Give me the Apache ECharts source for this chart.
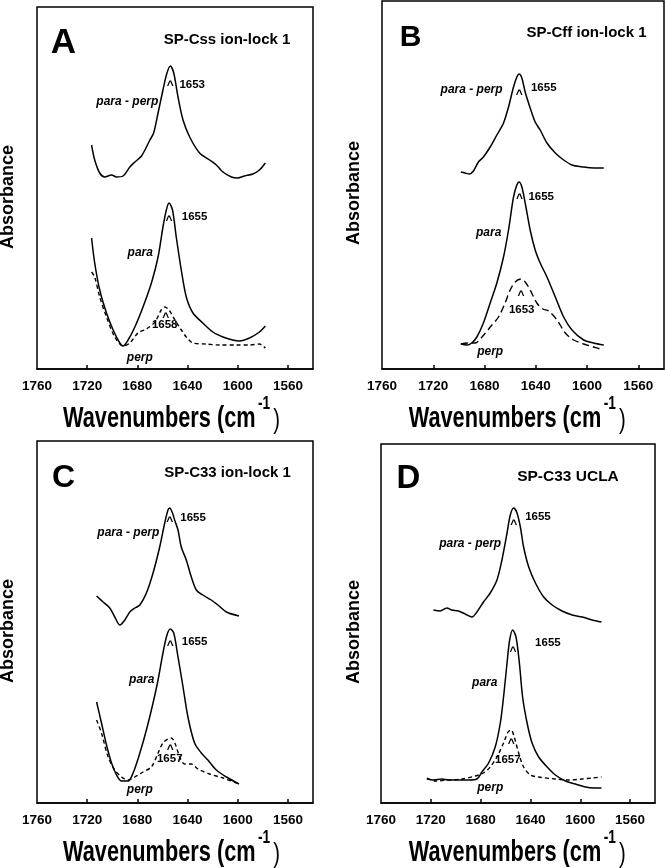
<!DOCTYPE html>
<html><head><meta charset="utf-8">
<script src="https://cdn.jsdelivr.net/npm/echarts@6/dist/echarts.min.js"></script>
<style>html,body{margin:0;padding:0;background:#fff}#c{width:665px;height:868px}</style>
</head><body><div id="c"></div>
<script>
// ---- tick labels / categories ----
const xTickLabels = [1760, 1720, 1680, 1640, 1600, 1560];
const xTickMarks = [1720, 1680, 1640, 1600, 1560];
const panelLetters = ['A', 'B', 'C', 'D'];
const panelTitles = ['SP-Css ion-lock 1', 'SP-Cff ion-lock 1', 'SP-C33 ion-lock 1', 'SP-C33 UCLA'];

// ---- series values: [wavenumber, absorbance (arb.)] ----
const A_paraPerp = [[1716.5,224],[1714,209],[1710,196],[1706,192],[1700.6,194],[1696.6,192],[1691.4,193],[1686,202],[1682,207],[1676.7,213],[1670,229],[1667,236],[1663.5,256],[1659.6,279],[1656.4,296],[1653.7,303],[1651,296],[1647.6,272],[1643.6,249],[1638.3,232],[1630.4,216],[1622.4,209],[1617,204],[1611.8,197],[1605,192],[1600,191],[1594.6,193],[1588,195],[1582.7,199],[1578,206]];
const A_para = [[1716.5,131],[1714,106],[1710,79],[1704.6,56],[1699.3,39],[1694,26],[1691.4,23],[1687.4,29],[1682,42],[1675.5,62],[1668.8,86],[1663.5,112],[1659.6,142],[1656.9,159],[1654.8,166],[1652,159],[1649,132],[1645,99],[1641,72],[1635.7,56],[1627.8,46],[1619.8,37],[1611.8,32],[1604,29],[1598.6,28],[1590.6,31],[1582.7,37],[1578,43]];
const A_perp = [[1716.5,97],[1714,92],[1710,72],[1704.6,52],[1698,32],[1691.4,23],[1686,26],[1679.5,36],[1672.8,40],[1666,47],[1661,59],[1658.2,62],[1654.8,59],[1650,49],[1645,39],[1641,32],[1635.7,26],[1625,25],[1614.5,24],[1601,24],[1590.6,24],[1582.7,25],[1578,21]];

const B_paraPerp = [[1698.5,197],[1695.2,196],[1691.8,195],[1688.7,198],[1684.8,207],[1680.9,212],[1675.6,222],[1670.4,234],[1665.2,246],[1661.3,262],[1657.4,282],[1654.8,292],[1653,295],[1650.9,291],[1648.3,277],[1644.4,261],[1640.5,247],[1636.6,239],[1631.3,226],[1624.8,216],[1618.3,209],[1611.8,204],[1602.7,202],[1594.9,201],[1587,201]];
const B_para = [[1698.5,25],[1693.8,24],[1690,26],[1686,32],[1680.9,46],[1675.6,66],[1670.4,86],[1665.2,112],[1661.3,139],[1657.4,172],[1654.8,184],[1653,187],[1650.9,182],[1648.3,166],[1644.4,139],[1640.5,119],[1636.6,106],[1631.3,92],[1624.8,72],[1618.3,52],[1611.8,39],[1602.7,29],[1594.9,26],[1587,24]];
const B_perp = [[1698.5,25],[1692.6,26],[1687.3,26],[1682,32],[1675.6,42],[1669.1,52],[1664,66],[1660,79],[1656.1,87],[1651.7,90],[1648.3,87],[1644.4,79],[1639.2,66],[1634.5,60],[1630,58],[1623.5,49],[1617,36],[1610.5,29],[1602.7,25],[1594.9,22],[1589.7,20]];

const C_paraPerp = [[1712.5,207],[1707.3,201],[1702,195],[1698,186],[1694,178],[1690,183],[1686,191],[1682,195],[1678,198],[1672.8,210],[1667.5,230],[1662.2,256],[1658.2,280],[1655.6,293],[1654.2,295],[1652,290],[1650.3,283],[1647.6,273],[1645,256],[1641,243],[1637,226],[1633,213],[1627.8,208],[1621.1,203],[1615.8,198],[1609,191],[1599,187]];
const C_para = [[1712.5,101],[1708.6,80],[1704.6,58],[1700.6,40],[1696.6,28],[1692.6,22],[1687.4,22],[1683.4,30],[1678,50],[1672.8,73],[1667.5,100],[1663.5,123],[1659.6,150],[1656.4,168],[1653.7,174],[1651,170],[1647.6,146],[1643.6,116],[1639.7,86],[1634.4,60],[1629,50],[1623.8,43],[1617.1,33],[1609,26],[1599,19]];
const C_perp = [[1712.5,83],[1708.6,70],[1703.3,46],[1698,33],[1692.6,26],[1687.4,23],[1682,26],[1675.5,31],[1668.8,36],[1663.5,50],[1659.6,60],[1655.6,64],[1652.9,65],[1649.5,58],[1646.3,46],[1642.3,39],[1637,39],[1631.7,34],[1622.4,29],[1611.8,25],[1599,19]];

const D_paraPerp = [[1717.9,193],[1712.5,192],[1707.1,195],[1703.1,193],[1697.8,192],[1692.4,189],[1687,186],[1683,191],[1677.7,201],[1672.3,210],[1666.9,223],[1662.9,243],[1658.8,270],[1656.2,288],[1653.5,295],[1650.8,290],[1648.1,276],[1645.5,256],[1641.4,236],[1636,220],[1629.4,206],[1622.6,198],[1614.6,192],[1606.5,188],[1598.5,186],[1590.4,183],[1583,181]];
const D_para = [[1723.2,24],[1717.9,23],[1711.1,24],[1705.8,23],[1697.8,23],[1689.7,23],[1683,24],[1679,31],[1673.6,40],[1668.3,56],[1664.2,80],[1661.6,106],[1658.8,140],[1656.7,163],[1654.3,173],[1651.6,166],[1648.9,140],[1646.3,106],[1642.7,80],[1638.7,60],[1633.4,46],[1626.6,36],[1620,28],[1611.9,22],[1603.9,19],[1595.8,16],[1589.1,15],[1583,15]];
const D_perp = [[1723.2,25],[1716.5,22],[1705.8,23],[1695,24],[1684.3,27],[1677.7,30],[1672.3,36],[1666.9,46],[1661.6,60],[1658,71],[1655.6,73],[1653,66],[1649.5,50],[1645.5,36],[1640,28],[1633.4,26],[1620,24],[1609.3,23],[1598.5,24],[1590.4,25],[1583,26]];

// ---- annotations: [wavenumber, absorbance, text] ----
const A_notes = [[1688.0,267,'para - perp'],[1653.7,286,'^'],[1636.3,284,'1653'],[1654.8,151,'^'],[1634.4,152,'1655'],[1677.7,116,'para'],[1657.4,54,'^'],[1658.2,44,'1658'],[1678,11,'perp']];
const B_notes = [[1690.1,279,'para - perp'],[1653,277,'^'],[1633.8,281,'1655'],[1652.7,173,'^'],[1635.8,172,'1655'],[1676.8,136,'para'],[1651.6,76,'^'],[1651,59,'1653'],[1675.6,17,'perp']];
const C_notes = [[1687.2,270,'para - perp'],[1654.2,284,'^'],[1635.6,285,'1655'],[1653.7,160,'^'],[1634.4,161,'1655'],[1676.5,123,'para'],[1653.7,56,'^'],[1654.2,44,'1657'],[1678,13,'perp']];
const D_notes = [[1688.4,259,'para - perp'],[1653.5,281,'^'],[1634.0,286,'1655'],[1654,154,'^'],[1626.0,160,'1655'],[1676.7,120,'para'],[1655.4,62,'^'],[1658.2,43,'1657'],[1672.3,15,'perp']];

const panelData = [
  {diff: A_paraPerp, para: A_para, perp: A_perp, notes: A_notes},
  {diff: B_paraPerp, para: B_para, perp: B_perp, notes: B_notes},
  {diff: C_paraPerp, para: C_para, perp: C_perp, notes: C_notes},
  {diff: D_paraPerp, para: D_para, perp: D_perp, notes: D_notes}
];

// ---- layout ----
const FONT = '"Liberation Sans", Arial, sans-serif';
const grids = [
  {left: 37, top: 7, width: 276, height: 362},
  {left: 382, top: 1, width: 282, height: 368},
  {left: 37, top: 441, width: 276, height: 362},
  {left: 381, top: 444, width: 274, height: 359}
];
const dashes = [[4, 3], [7, 4], [4, 3], [4, 3]];
const letterPos = [[63.5, 43, 35], [410.5, 38, 30], [63.5, 478, 32], [408.5, 479, 33]];
const titlePos = [[227, 40, 15], [586.5, 33, 15], [227.5, 473, 15], [568, 477, 15.5]];
const absPos = [[8.5, 197], [354, 193], [8.5, 631], [354, 632]];
const wavePos = [[63, 419], [408.7, 419], [63, 853], [408.7, 853]];

const chart = echarts.init(document.getElementById('c'), null, {renderer: 'canvas'});

const xAxes = [], yAxes = [], series = [], graphics = [];
grids.forEach((g, i) => {
  xAxes.push({
    type: 'value', gridIndex: i, min: 1540, max: 1760, inverse: true,
    axisLine: {show: true, lineStyle: {color: '#000', width: 1.5}},
    axisTick: {show: true, inside: true, length: 4, customValues: xTickMarks, lineStyle: {color: '#000', width: 1.5}},
    axisLabel: {show: true, customValues: xTickLabels, formatter: v => String(v), color: '#000', fontWeight: 'bold', fontSize: 13.5, fontFamily: FONT, margin: 10},
    splitLine: {show: false}
  });
  yAxes.push({type: 'value', gridIndex: i, min: 0, max: g.height, show: false});
  const d = panelData[i];
  const lineBase = {type: 'line', xAxisIndex: i, yAxisIndex: i, showSymbol: false, symbol: 'none', smooth: 0.3, silent: true, animation: false};
  series.push(Object.assign({}, lineBase, {data: d.diff, lineStyle: {color: '#000', width: 1.5}}));
  series.push(Object.assign({}, lineBase, {data: d.para, lineStyle: {color: '#000', width: 1.5}}));
  series.push(Object.assign({}, lineBase, {data: d.perp, lineStyle: {color: '#000', width: 1.4, type: dashes[i]}}));
  series.push({
    type: 'scatter', xAxisIndex: i, yAxisIndex: i, symbolSize: 1, silent: true, animation: false,
    itemStyle: {color: 'rgba(0,0,0,0)'},
    data: d.notes.map(n => {
      const t = n[2];
      let lab;
      if (t === '^') lab = {fontSize: 12, fontWeight: 'bold', offset: [0, 3]};
      else if (/^\d+$/.test(t)) lab = {fontSize: 11.5, fontWeight: 'bold'};
      else lab = {fontSize: 12, fontWeight: 'bold', fontStyle: 'italic'};
      return {value: [n[0], n[1]], label: Object.assign({show: true, position: 'inside', formatter: t, color: '#000', textBorderWidth: 0, textBorderColor: 'transparent', opacity: 1, fontFamily: FONT, align: 'center', verticalAlign: 'middle'}, lab)};
    })
  });

  graphics.push({type: 'text', x: letterPos[i][0], y: letterPos[i][1], style: {text: panelLetters[i], font: 'bold ' + letterPos[i][2] + 'px ' + FONT, fill: '#000', textAlign: 'center', textVerticalAlign: 'middle'}});
  graphics.push({type: 'text', x: titlePos[i][0], y: titlePos[i][1], style: {text: panelTitles[i], font: 'bold ' + titlePos[i][2] + 'px ' + FONT, fill: '#000', textAlign: 'center', textVerticalAlign: 'middle'}});
  graphics.push({type: 'text', x: absPos[i][0], y: absPos[i][1], rotation: Math.PI / 2, style: {text: 'Absorbance', font: 'bold 18px ' + FONT, fill: '#000', textAlign: 'center', textVerticalAlign: 'middle'}});
  graphics.push({type: 'group', x: wavePos[i][0], y: wavePos[i][1], scaleX: 0.725, children: [
    {type: 'text', x: 0, y: 0, style: {text: 'Wavenumbers (cm', font: 'bold 30px ' + FONT, fill: '#000', textAlign: 'left', textVerticalAlign: 'middle'}},
    {type: 'text', x: 269, y: -15.5, style: {text: '-1', font: 'bold 19px ' + FONT, fill: '#000', textAlign: 'left', textVerticalAlign: 'middle'}},
    {type: 'text', x: 290, y: 1, style: {text: ')', font: '28px ' + FONT, fill: '#000', textAlign: 'left', textVerticalAlign: 'middle'}}
  ]});
});

chart.setOption({
  backgroundColor: '#fff',
  animation: false,
  grid: grids.map(g => Object.assign({show: true, borderColor: '#000', borderWidth: 1.5, backgroundColor: 'transparent', containLabel: false}, g)),
  xAxis: xAxes,
  yAxis: yAxes,
  series: series,
  graphic: graphics
});
</script>
</body></html>
